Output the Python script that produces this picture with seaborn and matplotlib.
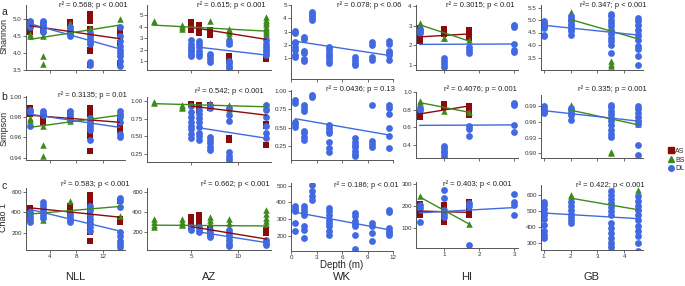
import numpy as np
import pandas as pd
import seaborn as sns
import matplotlib.pyplot as plt
from matplotlib.lines import Line2D

# ---- data: (depth, value) per site / group ----
sites = ["NLL", "AZ", "WK", "HI", "GB"]
metrics = ["Shannon", "Simpson", "Chao 1"]
groups = ["AS", "BS", "DL"]

# Shannon
shannon_nll_as = [(1, 4.92), (1, 4.85), (1, 4.78), (1, 4.7), (1, 4.62), (3, 4.82), (3, 4.75), (3, 4.68),
                  (7, 4.9), (7, 4.84), (7, 4.78), (10, 5.15), (10, 5.08), (10, 5.0), (10, 4.95), (10, 4.7),
                  (10, 4.1), (10, 4.05), (10, 3.65), (14.5, 4.72), (14.5, 4.62), (14.5, 4.55), (14.5, 4.28), (14.5, 3.7)]
shannon_nll_bs = [(1, 4.55), (1, 4.5), (3, 4.5), (3, 3.92), (3, 3.68), (7, 4.88), (10, 4.72), (14.5, 5.0)]
shannon_nll_dl = [(1, 4.95), (1, 4.9), (1, 4.85), (1, 4.8), (1, 4.75), (3, 4.95), (3, 4.9), (3, 4.85), (3, 4.8),
                  (3, 4.7), (3, 4.62), (7, 4.75), (7, 4.68), (7, 4.62), (7, 4.55), (7, 4.5), (10, 4.58), (10, 4.5),
                  (10, 4.4), (10, 4.33), (10, 4.25), (10, 3.73), (10, 3.66), (14.5, 4.75), (14.5, 4.5), (14.5, 4.35),
                  (14.5, 4.2), (14.5, 4.1), (14.5, 4.0), (14.5, 3.9), (14.5, 3.75), (14.5, 3.62)]
shannon_az_as = [(5, 4.35), (5, 4.15), (5, 4.0), (5, 3.85), (5, 3.7), (5.8, 4.1), (5.8, 3.9), (5.8, 3.75), (5.8, 3.55),
                 (5.8, 3.4), (7, 3.7), (7, 3.55), (7, 3.4), (7, 3.25), (9, 1.45), (9, 1.25), (9, 1.1), (13, 1.15)]
shannon_az_bs = [(1, 4.5), (1, 4.35), (4, 4.1), (4, 3.95), (4, 3.75), (7, 4.5), (9, 3.8), (9, 3.6), (9, 3.4), (9, 3.2),
                 (9, 3.0), (9, 2.8), (9, 2.55), (13, 4.85), (13, 4.6), (13, 4.4), (13, 4.2), (13, 4.0), (13, 3.8),
                 (13, 3.6), (13, 3.4), (13, 3.25)]
shannon_az_dl = [(5, 2.8), (5, 2.5), (5, 2.25), (5, 2.05), (5, 1.85), (5, 1.6), (5, 1.4), (5.8, 2.75), (5.8, 2.45),
                 (5.8, 2.2), (5.8, 1.9), (5.8, 1.65), (5.8, 1.4), (7, 1.65), (7, 1.4), (7, 1.2), (7, 0.95), (9, 2.7),
                 (9, 2.5), (9, 1.0), (9, 0.8), (9, 0.6), (9, 0.4), (13, 2.8), (13, 2.5), (13, 2.25), (13, 2.0),
                 (13, 1.75), (13, 1.5)]
shannon_wk_dl = [(0.5, 3.05), (0.5, 2.9), (0.5, 2.2), (0.5, 2.1), (0.5, 1.8), (0.5, 1.6), (0.5, 1.2), (0.5, 1.1),
                 (1.5, 2.6), (1.5, 2.45), (1.5, 1.55), (1.5, 1.35), (1.5, 0.95), (1.5, 0.75), (2.5, 4.45), (2.5, 4.3),
                 (2.5, 4.15), (2.5, 4.0), (2.5, 3.9), (4.5, 1.85), (4.5, 1.65), (4.5, 1.45), (4.5, 1.25), (4.5, 1.05),
                 (4.5, 0.85), (4.5, 0.65), (7.5, 1.05), (7.5, 0.85), (7.5, 0.65), (7.5, 0.45), (9.5, 2.2), (9.5, 2.0),
                 (9.5, 1.05), (9.5, 0.85), (11.5, 2.25), (11.5, 2.05), (11.5, 1.55), (11.5, 1.35), (11.5, 1.2),
                 (11.5, 0.85)]
shannon_hi_as = [(0.3, 2.9), (0.3, 2.75), (0.3, 2.6), (0.3, 2.45), (0.3, 2.3), (0.3, 2.2), (1, 2.85), (1, 2.7),
                 (1, 2.6), (1.7, 2.8), (1.7, 2.6), (1.7, 2.45), (1.7, 2.35)]
shannon_hi_bs = [(0.3, 3.12), (0.3, 3.0), (1, 2.4), (1, 2.35), (1.7, 2.25)]
shannon_hi_dl = [(0.3, 2.85), (0.3, 2.75), (0.3, 2.65), (1, 1.35), (1, 1.2), (1, 1.05), (1, 0.9), (1.7, 1.9),
                 (1.7, 1.75), (1.7, 1.6), (3, 3.05), (3, 2.95), (3, 2.08), (3, 1.75), (3, 1.65)]
shannon_gb_bs = [(2, 5.32), (2, 5.25), (2, 5.18), (2, 5.12), (3.5, 4.74), (3.5, 4.6), (3.5, 3.35), (3.5, 3.25),
                 (3.5, 3.16), (4.5, 4.87), (4.5, 4.75), (4.5, 4.6), (4.5, 4.45)]
shannon_gb_dl = [(1, 4.97), (1, 4.9), (1, 4.82), (1, 4.75), (1, 4.68), (1, 4.4), (1, 4.35), (2, 5.15), (2, 5.05),
                 (2, 4.95), (2, 4.85), (2, 4.75), (2, 4.65), (2, 4.55), (2, 4.42), (3.5, 5.25), (3.5, 5.15), (3.5, 5.0),
                 (3.5, 4.9), (3.5, 4.75), (3.5, 4.6), (3.5, 4.45), (3.5, 4.3), (3.5, 4.15), (3.5, 4.0), (3.5, 3.7),
                 (4.5, 5.1), (4.5, 4.95), (4.5, 4.8), (4.5, 4.6), (4.5, 4.4), (4.5, 4.2), (4.5, 3.95), (4.5, 3.85),
                 (4.5, 3.55), (4.5, 3.22)]

# Simpson
simpson_nll_as = [(1, 0.989), (1, 0.986), (1, 0.983), (3, 0.981), (3, 0.978), (3, 0.975), (7, 0.984), (7, 0.982),
                  (10, 0.989), (10, 0.986), (10, 0.983), (10, 0.969), (10, 0.965), (10, 0.961), (10, 0.947),
                  (14.5, 0.979), (14.5, 0.975), (14.5, 0.971), (14.5, 0.967)]
simpson_nll_bs = [(1, 0.979), (1, 0.977), (3, 0.971), (3, 0.953), (3, 0.942), (7, 0.976), (14.5, 0.984)]
simpson_nll_dl = [(1, 0.987), (1, 0.985), (1, 0.971), (3, 0.986), (3, 0.984), (3, 0.982), (7, 0.986), (7, 0.983),
                  (7, 0.98), (7, 0.977), (10, 0.979), (10, 0.976), (10, 0.973), (10, 0.97), (10, 0.967), (10, 0.957),
                  (14.5, 0.986), (14.5, 0.983), (14.5, 0.98), (14.5, 0.975), (14.5, 0.963), (14.5, 0.96)]
simpson_az_as = [(5, 0.96), (5, 0.94), (5.8, 0.95), (5.8, 0.92), (5.8, 0.88), (7, 0.95), (7, 0.92), (7, 0.9),
                 (9, 0.47), (9, 0.44), (13, 0.68), (13, 0.64), (13, 0.37)]
simpson_az_bs = [(1, 0.99), (1, 0.97), (4, 0.95), (4, 0.92), (4, 0.9), (7, 0.98), (7, 0.95), (9, 0.95), (9, 0.92),
                 (9, 0.89), (13, 0.95), (13, 0.93), (13, 0.91)]
simpson_az_dl = [(5, 0.93), (5, 0.85), (5, 0.78), (5, 0.7), (5, 0.65), (5, 0.6), (5, 0.53), (5, 0.47), (5.8, 0.88),
                 (5.8, 0.82), (5.8, 0.76), (5.8, 0.7), (5.8, 0.63), (5.8, 0.55), (5.8, 0.5), (5.8, 0.44), (7, 0.95),
                 (7, 0.9), (7, 0.49), (7, 0.45), (7, 0.4), (7, 0.35), (7, 0.3), (9, 0.9), (9, 0.8), (9, 0.72),
                 (9, 0.27), (9, 0.22), (9, 0.17), (9, 0.13), (13, 0.95), (13, 0.88), (13, 0.77), (13, 0.65),
                 (13, 0.55), (13, 0.47)]
simpson_wk_dl = [(0.5, 0.87), (0.5, 0.83), (0.5, 0.58), (0.5, 0.55), (0.5, 0.51), (1.5, 0.8), (1.5, 0.76),
                 (1.5, 0.73), (1.5, 0.46), (1.5, 0.42), (1.5, 0.37), (1.5, 0.33), (2.5, 0.94), (2.5, 0.91),
                 (4.5, 0.54), (4.5, 0.5), (4.5, 0.46), (4.5, 0.42), (4.5, 0.3), (4.5, 0.22), (4.5, 0.17), (7.5, 0.36),
                 (7.5, 0.31), (7.5, 0.27), (7.5, 0.23), (7.5, 0.18), (7.5, 0.14), (7.5, 0.11), (9.5, 0.8), (9.5, 0.32),
                 (9.5, 0.28), (9.5, 0.23), (11.5, 0.8), (11.5, 0.77), (11.5, 0.68), (11.5, 0.5), (11.5, 0.39),
                 (11.5, 0.22)]
simpson_hi_as = [(0.3, 0.76), (0.3, 0.72), (1, 0.86), (1, 0.83), (1.7, 0.84), (1.7, 0.81), (1.7, 0.74)]
simpson_hi_bs = [(0.3, 0.9), (0.3, 0.87), (1, 0.78), (1.7, 0.77)]
simpson_hi_dl = [(0.3, 0.82), (0.3, 0.79), (1, 0.39), (1, 0.36), (1, 0.33), (1, 0.3), (1, 0.27), (1.7, 0.61),
                 (1.7, 0.58), (1.7, 0.5), (3, 0.87), (3, 0.85), (3, 0.62), (3, 0.54)]
simpson_gb_bs = [(2, 0.993), (2, 0.989), (3.5, 0.98), (3.5, 0.975), (3.5, 0.903), (3.5, 0.9), (4.5, 0.973),
                 (4.5, 0.968), (4.5, 0.962), (4.5, 0.957)]
simpson_gb_dl = [(1, 0.99), (1, 0.986), (1, 0.982), (1, 0.978), (2, 0.987), (2, 0.983), (2, 0.978), (2, 0.974),
                 (2, 0.964), (3.5, 0.993), (3.5, 0.988), (3.5, 0.982), (3.5, 0.975), (3.5, 0.968), (3.5, 0.962),
                 (3.5, 0.955), (3.5, 0.945), (3.5, 0.937), (3.5, 0.932), (4.5, 0.99), (4.5, 0.985), (4.5, 0.978),
                 (4.5, 0.97), (4.5, 0.962), (4.5, 0.956), (4.5, 0.916), (4.5, 0.897)]

# Chao 1
chao_nll_as = [(1, 445), (1, 420), (1, 395), (1, 370), (1, 340), (7, 460), (7, 430), (7, 405), (7, 385), (10, 570),
               (10, 540), (10, 510), (10, 480), (10, 450), (10, 410), (10, 370), (10, 330), (10, 290), (10, 250),
               (10, 215), (10, 125), (14.5, 508), (14.5, 340), (14.5, 310)]
chao_nll_bs = [(1, 415), (3, 325), (7, 508), (14.5, 370)]
chao_nll_dl = [(1, 400), (1, 370), (1, 340), (1, 310), (3, 505), (3, 470), (3, 440), (3, 410), (3, 380), (3, 345),
               (7, 385), (7, 355), (7, 330), (7, 310), (10, 460), (10, 420), (10, 380), (10, 340), (10, 300),
               (10, 260), (10, 220), (14.5, 535), (14.5, 510), (14.5, 450), (14.5, 215), (14.5, 170), (14.5, 130),
               (14.5, 95), (14.5, 65)]
chao_az_as = [(5, 350), (5, 320), (5, 290), (5, 255), (5.8, 365), (5.8, 335), (5.8, 300), (5.8, 270), (7, 235),
              (7, 210), (7, 190), (13, 220), (13, 190)]
chao_az_bs = [(1, 335), (1, 300), (1, 275), (1, 255), (4, 335), (4, 305), (4, 285), (4, 270), (7, 350), (7, 320),
              (7, 290), (9, 330), (9, 290), (9, 250), (9, 210), (9, 170), (9, 130), (9, 105), (13, 415), (13, 380),
              (13, 345), (13, 310), (13, 285)]
chao_az_dl = [(5, 250), (5, 225), (5.8, 250), (5.8, 225), (5.8, 205), (7, 220), (7, 195), (7, 175), (7, 155),
              (9, 220), (9, 190), (9, 160), (9, 120), (9, 85), (9, 60), (13, 120), (13, 95), (13, 75)]
chao_wk_dl = [(0.5, 375), (0.5, 360), (0.5, 345), (0.5, 275), (0.5, 225), (1.5, 375), (1.5, 360), (1.5, 340),
              (1.5, 325), (1.5, 255), (1.5, 235), (1.5, 185), (2.5, 505), (2.5, 470), (2.5, 440), (2.5, 415),
              (4.5, 365), (4.5, 345), (4.5, 325), (4.5, 295), (4.5, 275), (4.5, 255), (4.5, 225), (4.5, 205),
              (7.5, 335), (7.5, 315), (7.5, 290), (7.5, 270), (7.5, 255), (7.5, 205), (7.5, 122), (9.5, 275),
              (9.5, 255), (9.5, 215), (9.5, 170), (11.5, 355), (11.5, 340), (11.5, 245), (11.5, 230), (11.5, 215),
              (11.5, 205)]
chao_hi_as = [(0.3, 210), (0.3, 190), (0.3, 170), (0.3, 160), (1, 205), (1, 185), (1, 165), (1, 145), (1, 130),
              (1.7, 220), (1.7, 205), (1.7, 185), (1.7, 160)]
chao_hi_bs = [(0.3, 246), (1.7, 120)]
chao_hi_dl = [(0.3, 205), (0.3, 190), (0.3, 130), (1, 275), (1, 240), (1, 185), (1, 165), (1, 150), (1.7, 215),
              (1.7, 200), (1.7, 22), (3, 255), (3, 220), (3, 205), (3, 160)]
chao_gb_bs = [(2, 600), (2, 590), (2, 580), (2, 515), (3.5, 558), (3.5, 330), (3.5, 305), (3.5, 290), (4.5, 630),
              (4.5, 555), (4.5, 515), (4.5, 500)]
chao_gb_dl = [(1, 555), (1, 535), (1, 510), (1, 485), (1, 470), (1, 445), (1, 410), (1, 375), (1, 350), (1, 330),
              (2, 555), (2, 530), (2, 505), (2, 480), (2, 460), (2, 440), (2, 425), (3.5, 620), (3.5, 600),
              (3.5, 575), (3.5, 550), (3.5, 520), (3.5, 495), (3.5, 470), (3.5, 420), (3.5, 390), (3.5, 360),
              (3.5, 330), (3.5, 300), (3.5, 270), (3.5, 250), (4.5, 590), (4.5, 560), (4.5, 530), (4.5, 505),
              (4.5, 470), (4.5, 440), (4.5, 405), (4.5, 375), (4.5, 340), (4.5, 300), (4.5, 250)]

# fitted trend lines as drawn in the figure: (start, end)
trend_shannon = {
    "NLL": {"AS": [(1, 4.80), (14.5, 4.42)], "BS": [(1, 4.40), (14.5, 4.82)], "DL": [(1, 4.86), (14.5, 4.12)]},
    "AZ": {"AS": [(5, 3.93), (13, 2.88)], "BS": [(1, 4.12), (13, 3.6)], "DL": [(5.8, 2.2), (13, 1.52)]},
    "WK": {"DL": [(0.5, 2.27), (11.5, 1.2)]},
    "HI": {"AS": [(0.3, 2.43), (1.7, 2.58)], "BS": [(0.3, 3.05), (1.7, 2.23)], "DL": [(0.3, 2.05), (3, 2.07)]},
    "GB": {"BS": [(2, 5.02), (4.5, 4.25)], "DL": [(1, 4.79), (4.5, 4.4)]},
}
trend_simpson = {
    "NLL": {"AS": [(1, 0.982), (14.5, 0.975)], "BS": [(1, 0.970), (14.5, 0.982)], "DL": [(1, 0.983), (14.5, 0.970)]},
    "AZ": {"AS": [(5, 0.93), (13, 0.80)], "BS": [(1, 0.965), (13, 0.92)], "DL": [(5.8, 0.62), (13, 0.47)]},
    "WK": {"DL": [(0.5, 0.62), (11.5, 0.40)]},
    "HI": {"AS": [(0.3, 0.75), (1.7, 0.84)], "BS": [(0.3, 0.88), (1.7, 0.77)], "DL": [(0.3, 0.62), (3, 0.625)]},
    "GB": {"BS": [(2, 0.983), (4.5, 0.955)], "DL": [(1, 0.982), (4.5, 0.962)]},
}
trend_chao = {
    "NLL": {"AS": [(1, 445), (14.5, 355)], "BS": [(1, 385), (14.5, 458)], "DL": [(1, 430), (14.5, 222)]},
    "AZ": {"AS": [(5, 255), (13, 133)], "BS": [(1, 270), (13, 262)], "DL": [(5.8, 203), (13, 98)]},
    "WK": {"DL": [(0.5, 340), (11.5, 235)]},
    "HI": {"AS": [(0.3, 178), (1.7, 172)], "BS": [(0.3, 243), (1.7, 120)], "DL": [(0.3, 170), (3, 194)]},
    "GB": {"BS": [(2, 578), (4.5, 506)], "DL": [(1, 485), (4.5, 450)]},
}

stats_text = [
    ["r² = 0.568; p < 0.001", "r² = 0.615; p < 0.001", "r² = 0.078; p < 0.06", "r² = 0.3015; p < 0.01", "r²= 0.347; p < 0.001"],
    ["r² = 0.3135; p = 0.01", "r² = 0.542; p < 0.001", "r² = 0.0436; p = 0.13", "r² = 0.4076; p = 0.001", "r² = 0.335; p = 0.001"],
    ["r² = 0.583; p < 0.001", "r² = 0.662; p < 0.001", "r² = 0.186; p < 0.01", "r² = 0.403; p < 0.001", "r² = 0.422; p < 0.001"],
]

x_ticks = [[4, 8, 12], [5, 10], [0, 3, 6, 9, 12], [1, 2, 3], [1, 2, 3, 4]]
y_ticks = [
    [[3.5, 4.0, 4.5, 5.0], [1, 2, 3, 4, 5], [1, 2, 3, 4, 5], [1, 2, 3, 4], [3.5, 4.0, 4.5, 5.0, 5.5]],
    [[0.94, 0.96, 0.98, 1.00], [0.25, 0.50, 0.75, 1.00], [0.25, 0.50, 0.75, 1.00], [0.4, 0.6, 0.8, 1.0], [0.90, 0.93, 0.96, 0.99]],
    [[200, 400, 600], [200, 400, 600], [200, 300, 400, 500], [100, 200, 300], [300, 400, 500, 600]],
]
y_fmt = [["{:.1f}", "{:.0f}", "{:.0f}", "{:.0f}", "{:.1f}"],
         ["{:.2f}", "{:.2f}", "{:.2f}", "{:.1f}", "{:.2f}"],
         ["{:.0f}"] * 5]

points = {
    "Shannon": {"NLL": [shannon_nll_as, shannon_nll_bs, shannon_nll_dl], "AZ": [shannon_az_as, shannon_az_bs, shannon_az_dl],
                "WK": [[], [], shannon_wk_dl], "HI": [shannon_hi_as, shannon_hi_bs, shannon_hi_dl],
                "GB": [[], shannon_gb_bs, shannon_gb_dl]},
    "Simpson": {"NLL": [simpson_nll_as, simpson_nll_bs, simpson_nll_dl], "AZ": [simpson_az_as, simpson_az_bs, simpson_az_dl],
                "WK": [[], [], simpson_wk_dl], "HI": [simpson_hi_as, simpson_hi_bs, simpson_hi_dl],
                "GB": [[], simpson_gb_bs, simpson_gb_dl]},
    "Chao 1": {"NLL": [chao_nll_as, chao_nll_bs, chao_nll_dl], "AZ": [chao_az_as, chao_az_bs, chao_az_dl],
               "WK": [[], [], chao_wk_dl], "HI": [chao_hi_as, chao_hi_bs, chao_hi_dl],
               "GB": [[], chao_gb_bs, chao_gb_dl]},
}
trends = {"Shannon": trend_shannon, "Simpson": trend_simpson, "Chao 1": trend_chao}

rows = []
for m in metrics:
    for s in sites:
        for g, pts in zip(groups, points[m][s]):
            for d, v in pts:
                rows.append((m, s, g, d, v))
df = pd.DataFrame(rows, columns=["metric", "site", "group", "depth", "value"])

trows = []
for m in metrics:
    for s in sites:
        for g, seg in trends[m][s].items():
            for d, v in seg:
                trows.append((m, s, g, d, v))
tdf = pd.DataFrame(trows, columns=["metric", "site", "group", "depth", "value"])

# ---- layout (pixel boxes of each panel) ----
W, H = 685, 286
col_x = [(26, 125), (147, 271), (291, 393), (416, 518), (541, 643)]
row_y = [
    [(5, 70), (5, 70), (5, 79), (5, 70), (5, 70)],
    [(96, 160), (97, 162), (90, 160), (92, 158), (95, 158)],
    [(188, 250), (188, 250), (183, 251), (182, 248), (185, 250)],
]
xlims = [(0.4, 15.3), (0.3, 13.5), (0, 12), (0.2, 3.11), (0.9, 4.7)]
ylims = [
    [(3.5, 5.41), (0.22, 5.87), (-0.58, 5.0), (0.75, 4.05), (3.0, 5.6)],
    [(0.9377, 1.001), (0.13, 1.06), (0.06, 1.01), (0.248, 1.0), (0.891, 1.012)],
    [(40, 635), (25, 636), (107, 516), (9, 311), (254, 660)],
]
stat_pos = [
    [(128, 5), (266, 5), (401, 5), (515, 5), (647, 5)],
    [(127, 95), (264, 91), (395, 89), (517, 89), (647, 89)],
    [(130, 184), (270, 184), (398, 185), (512, 184), (645, 185)],
]

colors = {"AS": "#8B0A0A", "BS": "#3C8A1C", "DL": "#4169E1"}
markers = {"AS": "s", "BS": "^", "DL": "o"}
sizes = {"AS": 15, "BS": 22, "DL": 24}

sns.set_style("ticks")
plt.rcParams["font.family"] = ["Liberation Sans", "DejaVu Sans"]
plt.rcParams["axes.edgecolor"] = "#555555"
plt.rcParams["xtick.color"] = "#555555"
plt.rcParams["ytick.color"] = "#555555"

fig = plt.figure(figsize=(W / 100, H / 100), dpi=100)

for r, m in enumerate(metrics):
    for c, s in enumerate(sites):
        (x0, x1), (y0, y1) = col_x[c], row_y[r][c]
        ax = fig.add_axes([x0 / W, 1 - y1 / H, (x1 - x0) / W, (y1 - y0) / H])
        sub = df[(df.metric == m) & (df.site == s)]
        for g in groups:
            gd = sub[sub.group == g]
            if len(gd):
                sns.scatterplot(data=gd, x="depth", y="value", color=colors[g], marker=markers[g],
                                s=sizes[g], linewidth=0, ax=ax, legend=False, zorder=2)
        tsub = tdf[(tdf.metric == m) & (tdf.site == s)]
        sns.lineplot(data=tsub, x="depth", y="value", hue="group", palette=colors,
                     linewidth=1.0, ax=ax, legend=False, zorder=3, estimator=None)
        ax.set_xlim(*xlims[c])
        ax.set_ylim(*ylims[r][c])
        ax.set_xticks(x_ticks[c])
        ax.set_yticks(y_ticks[r][c])
        ax.set_yticklabels([y_fmt[r][c].format(t) for t in y_ticks[r][c]])
        if r < 2:
            ax.set_xticklabels([])
        ax.tick_params(labelsize=4.5, length=2, width=0.6, pad=1.0, labelcolor="#333333")
        for sp in ax.spines.values():
            sp.set_linewidth(0.7)
        sns.despine(ax=ax)
        ax.set_xlabel("")
        ax.set_ylabel("")
        tx, ty = stat_pos[r][c]
        fig.text(tx / W, 1 - ty / H, stats_text[r][c], ha="right", va="center", fontsize=5.5, color="#222222")

# row labels and panel letters
for lab, ly, letter, lty in zip(metrics, [36, 128, 218], ["a", "b", "c"], [12, 97, 186]):
    fig.text(4 / W, 1 - ly / H, lab, rotation=90, ha="center", va="center", fontsize=6.5)
    fig.text(1 / W, 1 - lty / H, letter, ha="left", va="center", fontsize=7.5)

for c, s in enumerate(sites):
    cx = (col_x[c][0] + col_x[c][1]) / 2
    fig.text(cx / W, 1 - 277 / H, s, ha="center", va="center", fontsize=8)
fig.text(342 / W, 1 - 265 / H, "Depth (m)", ha="center", va="center", fontsize=7)

handles = [Line2D([], [], marker=markers[g], color=colors[g], linestyle="", markersize=4) for g in groups]
fig.legend(handles, groups, loc="center", bbox_to_anchor=(676 / W, 1 - 160 / H), frameon=False,
           fontsize=5, handletextpad=0.1, labelspacing=0.25, handlelength=1.0, borderpad=0)

fig.savefig("out.png", dpi=100)
